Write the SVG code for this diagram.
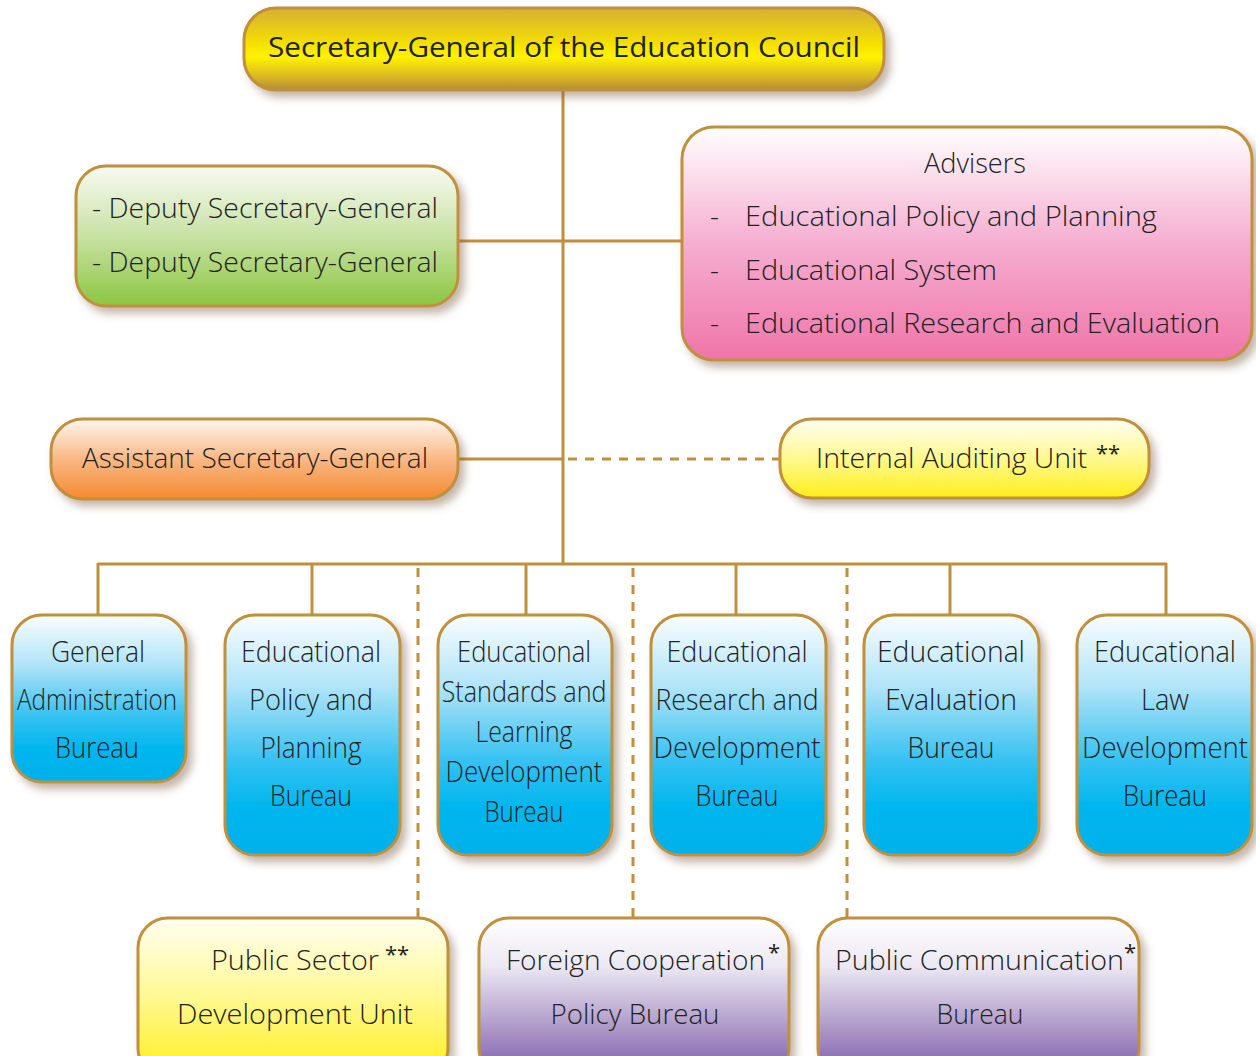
<svg xmlns="http://www.w3.org/2000/svg" width="1256" height="1056" viewBox="0 0 1256 1056">
<style>
.box{stroke:#c0903c;stroke-width:3;filter:url(#sh)}
.t{font-family:"Open Sans","Noto Sans","DejaVu Sans",sans-serif;font-weight:300;fill:#222;font-size:28px}
.m{text-anchor:middle}
.b{font-size:29px}
.sup{font-family:"Open Sans","Noto Sans",sans-serif;fill:#222;font-size:22px}
.ln{stroke:#c0903c;stroke-width:3;fill:none}
.dash{stroke-dasharray:9 8}
</style>
<defs>
<filter id="sh" x="-10%" y="-10%" width="125%" height="130%">
<feDropShadow dx="5" dy="6" stdDeviation="4" flood-color="#7a5a40" flood-opacity="0.45"/>
</filter>
<linearGradient id="gGold" x1="0" y1="0" x2="0" y2="1">
<stop offset="0" stop-color="#d6ae34"/><stop offset="0.45" stop-color="#f6e200"/><stop offset="0.6" stop-color="#fff200"/><stop offset="0.85" stop-color="#d8b428"/><stop offset="1" stop-color="#b48c30"/>
</linearGradient>
<linearGradient id="gGreen" x1="0" y1="0" x2="0" y2="1">
<stop offset="0" stop-color="#f7faf2"/><stop offset="0.5" stop-color="#c8e2a4"/><stop offset="1" stop-color="#8cc640"/>
</linearGradient>
<linearGradient id="gPink" x1="0" y1="0" x2="0" y2="1">
<stop offset="0" stop-color="#ffffff"/><stop offset="0.5" stop-color="#f5aed0"/><stop offset="1" stop-color="#ef75a8"/>
</linearGradient>
<linearGradient id="gOrange" x1="0" y1="0" x2="0" y2="1">
<stop offset="0" stop-color="#fff6f0"/><stop offset="0.5" stop-color="#f9b884"/><stop offset="1" stop-color="#f58a30"/>
</linearGradient>
<linearGradient id="gYellow" x1="0" y1="0" x2="0" y2="1">
<stop offset="0" stop-color="#fffff2"/><stop offset="0.5" stop-color="#fff890"/><stop offset="1" stop-color="#ffee18"/>
</linearGradient>
<linearGradient id="gBlue" x1="0" y1="0" x2="0" y2="1">
<stop offset="0" stop-color="#fafdff"/><stop offset="0.3" stop-color="#b0e4f8"/><stop offset="0.6" stop-color="#38c2f2"/><stop offset="0.8" stop-color="#00b6ee"/><stop offset="1" stop-color="#00b0ea"/>
</linearGradient>
<linearGradient id="gPurple" x1="0" y1="0" x2="0" y2="1">
<stop offset="0" stop-color="#ffffff"/><stop offset="0.3" stop-color="#ece8f3"/><stop offset="0.65" stop-color="#b3a0cc"/><stop offset="1" stop-color="#7a58a6"/>
</linearGradient>
</defs>
<rect width="1256" height="1056" fill="#ffffff"/>

<g id="connectors">
<line class="ln" x1="563" y1="88" x2="563" y2="565"/>
<line class="ln" x1="458" y1="241" x2="683" y2="241"/>
<line class="ln" x1="458" y1="459" x2="563" y2="459"/>
<line class="ln dash" x1="568" y1="459" x2="780" y2="459"/>
<line class="ln" x1="98" y1="564" x2="1167" y2="564"/>
<line class="ln" x1="98" y1="563" x2="98" y2="616"/>
<line class="ln" x1="312" y1="563" x2="312" y2="616"/>
<line class="ln" x1="526" y1="563" x2="526" y2="616"/>
<line class="ln" x1="736" y1="563" x2="736" y2="616"/>
<line class="ln" x1="950" y1="563" x2="950" y2="616"/>
<line class="ln" x1="1166" y1="563" x2="1166" y2="616"/>
<line class="ln dash" x1="418" y1="568" x2="418" y2="918"/>
<line class="ln dash" x1="633" y1="568" x2="633" y2="918"/>
<line class="ln dash" x1="847" y1="568" x2="847" y2="918"/>
</g>

<g id="secretary-general">
<rect class="box" x="244" y="8" width="640" height="82" rx="32" fill="url(#gGold)"/>
<text class="t m" x="564" y="57" textLength="592" lengthAdjust="spacingAndGlyphs" style="font-weight:400">Secretary-General of the Education Council</text>
</g>

<g id="deputies">
<rect class="box" x="76" y="166" width="382" height="140" rx="30" fill="url(#gGreen)"/>
<text class="t" x="92" y="218" textLength="346" lengthAdjust="spacingAndGlyphs">- Deputy Secretary-General</text>
<text class="t" x="92" y="272" textLength="346" lengthAdjust="spacingAndGlyphs">- Deputy Secretary-General</text>
</g>

<g id="advisers">
<rect class="box" x="682" y="127" width="570" height="233" rx="32" fill="url(#gPink)"/>
<text class="t m" x="975" y="173" textLength="102" lengthAdjust="spacingAndGlyphs">Advisers</text>
<text class="t" x="710" y="226">-</text>
<text class="t" x="745" y="226" textLength="412" lengthAdjust="spacingAndGlyphs">Educational Policy and Planning</text>
<text class="t" x="710" y="280">-</text>
<text class="t" x="745" y="280" textLength="252" lengthAdjust="spacingAndGlyphs">Educational System</text>
<text class="t" x="710" y="333">-</text>
<text class="t" x="745" y="333" textLength="475" lengthAdjust="spacingAndGlyphs">Educational Research and Evaluation</text>
</g>

<g id="assistant">
<rect class="box" x="51" y="419" width="407" height="80" rx="32" fill="url(#gOrange)"/>
<text class="t m" x="255" y="468" textLength="346" lengthAdjust="spacingAndGlyphs">Assistant Secretary-General</text>
</g>

<g id="internal-audit">
<rect class="box" x="780" y="419" width="369" height="79" rx="32" fill="url(#gYellow)"/>
<text class="t" x="816" y="468" textLength="271" lengthAdjust="spacingAndGlyphs">Internal Auditing Unit</text>
<text class="sup" x="1096" y="461">**</text>
</g>

<g id="general-admin">
<rect class="box" x="12" y="615" width="174" height="167" rx="30" fill="url(#gBlue)"/>
<text class="t m b" x="98" y="662" textLength="94" lengthAdjust="spacingAndGlyphs">General</text>
<text class="t m b" x="97" y="710" textLength="160" lengthAdjust="spacingAndGlyphs">Administration</text>
<text class="t m b" x="97" y="758" textLength="84" lengthAdjust="spacingAndGlyphs">Bureau</text>
</g>

<g id="policy-planning">
<rect class="box" x="225" y="615" width="175" height="240" rx="30" fill="url(#gBlue)"/>
<text class="t m b" x="311" y="662" textLength="140" lengthAdjust="spacingAndGlyphs">Educational</text>
<text class="t m b" x="311" y="710" textLength="124" lengthAdjust="spacingAndGlyphs">Policy and</text>
<text class="t m b" x="311" y="758" textLength="101" lengthAdjust="spacingAndGlyphs">Planning</text>
<text class="t m b" x="311" y="806" textLength="82" lengthAdjust="spacingAndGlyphs">Bureau</text>
</g>

<g id="standards">
<rect class="box" x="438" y="615" width="174" height="240" rx="30" fill="url(#gBlue)"/>
<text class="t m b" x="524" y="662" textLength="134" lengthAdjust="spacingAndGlyphs">Educational</text>
<text class="t m b" x="524" y="702" textLength="165" lengthAdjust="spacingAndGlyphs">Standards and</text>
<text class="t m b" x="524" y="742" textLength="97" lengthAdjust="spacingAndGlyphs">Learning</text>
<text class="t m b" x="524" y="782" textLength="157" lengthAdjust="spacingAndGlyphs">Development</text>
<text class="t m b" x="524" y="822" textLength="79" lengthAdjust="spacingAndGlyphs">Bureau</text>
</g>

<g id="research">
<rect class="box" x="651" y="615" width="175" height="240" rx="30" fill="url(#gBlue)"/>
<text class="t m b" x="737" y="662" textLength="141" lengthAdjust="spacingAndGlyphs">Educational</text>
<text class="t m b" x="737" y="710" textLength="163" lengthAdjust="spacingAndGlyphs">Research and</text>
<text class="t m b" x="737" y="758" textLength="167" lengthAdjust="spacingAndGlyphs">Development</text>
<text class="t m b" x="737" y="806" textLength="83" lengthAdjust="spacingAndGlyphs">Bureau</text>
</g>

<g id="evaluation">
<rect class="box" x="864" y="615" width="175" height="240" rx="30" fill="url(#gBlue)"/>
<text class="t m b" x="951" y="662" textLength="148" lengthAdjust="spacingAndGlyphs">Educational</text>
<text class="t m b" x="951" y="710" textLength="132" lengthAdjust="spacingAndGlyphs">Evaluation</text>
<text class="t m b" x="951" y="758" textLength="87" lengthAdjust="spacingAndGlyphs">Bureau</text>
</g>

<g id="law">
<rect class="box" x="1077" y="615" width="175" height="240" rx="30" fill="url(#gBlue)"/>
<text class="t m b" x="1165" y="662" textLength="142" lengthAdjust="spacingAndGlyphs">Educational</text>
<text class="t m b" x="1165" y="710" textLength="48" lengthAdjust="spacingAndGlyphs">Law</text>
<text class="t m b" x="1165" y="758" textLength="166" lengthAdjust="spacingAndGlyphs">Development</text>
<text class="t m b" x="1165" y="806" textLength="84" lengthAdjust="spacingAndGlyphs">Bureau</text>
</g>

<g id="public-sector">
<rect class="box" x="138" y="918" width="310" height="160" rx="30" fill="url(#gYellow)"/>
<text class="t" x="211" y="970" textLength="168" lengthAdjust="spacingAndGlyphs">Public Sector</text>
<text class="sup" x="385" y="962">**</text>
<text class="t m" x="295" y="1024" textLength="236" lengthAdjust="spacingAndGlyphs">Development Unit</text>
</g>

<g id="foreign-cooperation">
<rect class="box" x="479" y="918" width="310" height="160" rx="30" fill="url(#gPurple)"/>
<text class="t" x="506" y="970" textLength="259" lengthAdjust="spacingAndGlyphs">Foreign Cooperation</text>
<text class="sup" x="768" y="960">*</text>
<text class="t m" x="635" y="1024" textLength="169" lengthAdjust="spacingAndGlyphs">Policy Bureau</text>
</g>

<g id="public-communication">
<rect class="box" x="818" y="918" width="321" height="160" rx="30" fill="url(#gPurple)"/>
<text class="t" x="835" y="970" textLength="289" lengthAdjust="spacingAndGlyphs">Public Communication</text>
<text class="sup" x="1124" y="960">*</text>
<text class="t m" x="980" y="1024" textLength="87" lengthAdjust="spacingAndGlyphs">Bureau</text>
</g>
</svg>
